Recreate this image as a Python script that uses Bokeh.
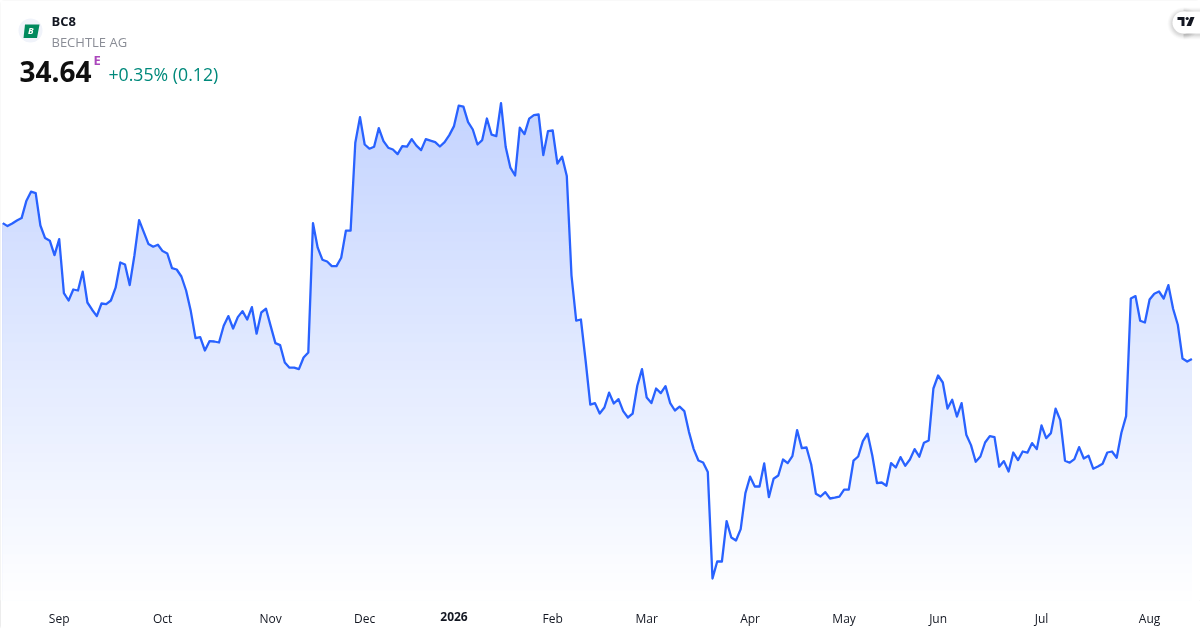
from bokeh.core.properties import value
from bokeh.embed import file_html
from bokeh.models import ColumnDataSource, FixedTicker, LinearAxis, Range1d
from bokeh.plotting import figure
from bokeh.resources import INLINE

symbol = "BC8"
company = "BECHTLE AG"
last_price = "34.64"
change = "+0.35% (0.12)"

prices = [
    41.43, 41.28, 41.41, 41.56, 41.68, 42.53, 43.00, 42.93, 41.31, 40.68, 40.55, 39.83, 40.63, 37.93, 37.56, 38.11,
    38.06, 39.00, 37.46, 37.10, 36.78, 37.41, 37.38, 37.56, 38.20, 39.46, 39.36, 38.33, 39.81, 41.58, 40.98, 40.38,
    40.25, 40.35, 40.03, 39.91, 39.18, 39.11, 38.76, 38.06, 37.03, 35.68, 35.73, 35.06, 35.53, 35.51, 35.46, 36.30,
    36.78, 36.16, 36.73, 37.03, 36.61, 37.23, 35.90, 36.96, 37.15, 36.28, 35.43, 35.33, 34.46, 34.20, 34.20, 34.13,
    34.71, 34.96, 41.43, 40.20, 39.60, 39.51, 39.28, 39.28, 39.70, 41.05, 41.05, 45.45, 46.73, 45.36, 45.15, 45.25,
    46.18, 45.53, 45.20, 45.11, 44.88, 45.28, 45.25, 45.63, 45.30, 45.08, 45.63, 45.55, 45.48, 45.26, 45.48, 45.83,
    46.28, 47.30, 47.25, 46.48, 46.11, 45.36, 45.58, 46.66, 45.85, 45.78, 47.43, 45.23, 44.20, 43.81, 46.20, 45.88,
    46.65, 46.83, 46.86, 44.83, 46.03, 46.06, 44.40, 44.75, 43.78, 38.81, 36.55, 36.61, 34.56, 32.35, 32.43, 31.91,
    32.21, 32.95, 32.41, 32.63, 32.03, 31.71, 31.90, 33.30, 34.13, 32.71, 32.43, 33.16, 32.93, 33.28, 32.43, 32.06,
    32.25, 32.03, 30.98, 30.13, 29.56, 29.46, 28.98, 23.66, 24.51, 24.51, 26.53, 25.71, 25.56, 26.13, 27.93, 28.75,
    28.26, 28.26, 29.41, 27.73, 28.65, 28.81, 29.61, 29.43, 29.78, 31.08, 30.18, 30.21, 29.36, 27.90, 27.76, 27.98,
    27.66, 27.70, 27.75, 28.10, 28.11, 29.55, 29.76, 30.53, 30.90, 29.81, 28.43, 28.46, 28.30, 29.43, 29.21, 29.73,
    29.30, 29.61, 30.13, 29.75, 30.45, 30.56, 33.16, 33.81, 33.46, 32.16, 32.60, 31.76, 32.43, 30.85, 30.33, 29.50,
    29.76, 30.46, 30.78, 30.73, 29.25, 29.53, 29.01, 29.96, 29.58, 30.01, 29.95, 30.43, 30.13, 31.31, 30.68, 30.93,
    32.15, 31.58, 29.55, 29.45, 29.63, 30.23, 29.66, 29.80, 29.15, 29.26, 29.40, 29.96, 30.01, 29.70, 30.95, 31.78,
    37.66, 37.78, 36.55, 36.46, 37.61, 37.90, 38.01, 37.66, 38.33, 37.15, 36.35, 34.66, 34.51, 34.64,
]
sessions = list(range(len(prices)))

month_ticks = [12, 34, 57, 77, 117, 137, 159, 179, 199, 221, 244]
month_labels = ["Sep", "Oct", "Nov", "Dec", "Feb", "Mar", "Apr", "May", "Jun", "Jul", "Aug"]
year_ticks = [96]
year_labels = ["2026"]

Y_LOW, Y_HIGH = 22.56, 52.56
FONT = "Open Sans"
LINE = "#2962FF"
BORDER = "#e6e6e6"

p = figure(
    width=1200, height=630, output_backend="svg", toolbar_location=None,
    x_range=Range1d(-0.489, 254.83), y_range=Range1d(Y_LOW, Y_HIGH),
    min_border_left=0, min_border_right=0, min_border_top=0, min_border_bottom=30,
    background_fill_color="white", border_fill_color="white", outline_line_color=None,
    styles={"position": "fixed", "left": "0", "top": "0",
            "outline": f"1px solid {BORDER}", "outline-offset": "-1px", "border-radius": "4px"},
)
p.yaxis.visible = False
p.grid.visible = False


def style_axis(axis, ticks, labels, standoff, font_style="normal"):
    axis.ticker = FixedTicker(ticks=ticks)
    axis.major_label_overrides = dict(zip(ticks, labels))
    axis.axis_line_color = None
    axis.major_tick_line_color = None
    axis.minor_tick_line_color = None
    axis.major_tick_out = 0
    axis.major_tick_in = 0
    axis.major_label_text_font = FONT
    axis.major_label_text_font_size = "12px"
    axis.major_label_text_font_style = font_style
    axis.major_label_text_color = "#131722"
    axis.major_label_standoff = standoff


style_axis(p.xaxis[0], month_ticks, month_labels, 9)
year_axis = LinearAxis()
style_axis(year_axis, year_ticks, year_labels, -18, "bold")
p.add_layout(year_axis, "below")

p.extra_x_ranges = {"px": Range1d(0, 1200)}
p.extra_y_ranges = {"px": Range1d(600, 0)}
PX = dict(x_range_name="px", y_range_name="px")

# vertical gradient under the line: darkest first, lighter bands painted over it
steps = 64
x0, x1 = sessions[0], sessions[-1]
for i in range(steps):
    t = i / (steps - 1)
    top = Y_HIGH - 1.0 + (Y_LOW - Y_HIGH + 1.0) * t
    a = 0.32 * (1 - t)
    col = tuple(round(255 - a * (255 - c)) for c in (41, 98, 255))
    p.quad(left=[x0], right=[x1], bottom=[Y_LOW], top=[top], fill_color="#%02x%02x%02x" % col, line_color=None)

src = ColumnDataSource(dict(x=sessions, y=prices))
# white above the line; it reaches past both ends so the band edges do not show through
mask = ColumnDataSource(dict(
    x=[x0 - 1] + sessions + [x1 + 2],
    y=[prices[0]] + prices + [prices[-1]],
    top=[Y_HIGH + 1] * (len(prices) + 2),
))
p.varea(x="x", y1="y", y2="top", source=mask, fill_color="white")
p.line(x="x", y="y", source=src, line_color=LINE, line_width=2.3, line_join="round")


# header
def txt(x, y, s, size, color, style="normal"):
    p.text(x=[x], y=[y], text=[s], text_font=value(FONT), text_font_size=size, text_color=color,
           text_font_style=style, text_baseline="alphabetic", **PX)


txt(51, 20, symbol, "13px", "#131722", "bold")
txt(51, 41, company, "13px", "#8a8d96")
txt(19, 71, last_price, "28px", "#0f0f0f", "bold")
txt(93, 59, "E", "13px", "#ab47bc", "bold")
txt(108, 73, change, "17.7px", "#00897b")

# logo badge
p.circle(x=[30], y=[30], radius=12, fill_color="#f0f3fa", line_color=None, **PX)
p.patch(x=[24.5, 39, 36.5, 23], y=[24, 24, 37.5, 37.5], fill_color="#008a5e", line_color=None, **PX)
txt(27.5, 30, "B", "9px", "white", "bold italic")

# TradingView badge with its soft shadow
for grow, alpha in [(5, 0.02), (4, 0.025), (3, 0.03), (2, 0.035), (1, 0.04)]:
    p.scatter(x=[1183], y=[23], size=2 * (11 + grow), marker="circle", fill_color="black", fill_alpha=alpha, line_color=None, **PX)
    p.quad(left=[1183], right=[1200], top=[12 - grow], bottom=[34 + grow], fill_color="black", fill_alpha=alpha, line_color=None, **PX)
p.scatter(x=[1183], y=[22], size=22, marker="circle", fill_color="white", line_color=None, **PX)
p.quad(left=[1183], right=[1200], top=[11], bottom=[33], fill_color="white", line_color=None, **PX)
p.patch(x=[1177, 1184, 1184, 1181, 1181, 1177], y=[16.5, 16.5, 25.5, 25.5, 19.5, 19.5], fill_color="#131722", line_color=None, **PX)
p.scatter(x=[1186.7], y=[18], size=3.2, marker="circle", fill_color="#131722", line_color=None, **PX)
p.patch(x=[1190, 1194, 1190.5, 1186], y=[16.5, 16.5, 25.5, 25.5], fill_color="#131722", line_color=None, **PX)

open("out.html", "w").write(file_html(p, INLINE))
